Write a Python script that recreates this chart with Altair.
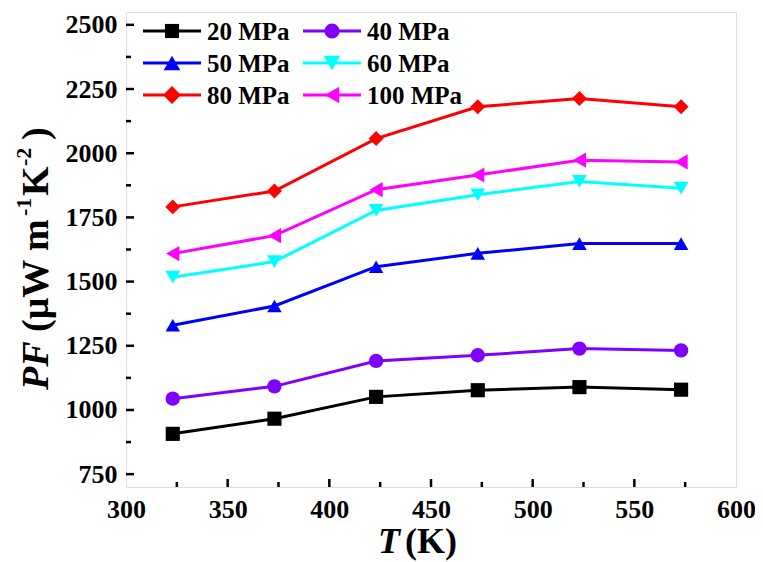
import altair as alt
import pandas as pd

# ---------------- data ----------------
series = ["20 MPa", "40 MPa", "50 MPa", "60 MPa", "80 MPa", "100 MPa"]
colors = ["#000000", "#8000FF", "#0000FF", "#00FFFF", "#FF0000", "#FF00FF"]
shapes = ["square", "circle", "triangle-up", "triangle-down", "diamond", "triangle-left"]
sizes = [200, 230, 280, 280, 320, 280]

T = [323, 373, 423, 473, 523, 573]
pf_20 = [907, 966, 1051, 1077, 1089, 1079]
pf_40 = [1044, 1092, 1191, 1213, 1239, 1232]
pf_50 = [1330, 1405, 1558, 1610, 1648, 1648]
pf_60 = [1517, 1578, 1777, 1838, 1890, 1864]
pf_80 = [1791, 1853, 2057, 2181, 2213, 2181]
pf_100 = [1609, 1679, 1858, 1915, 1973, 1966]
all_pf = [pf_20, pf_40, pf_50, pf_60, pf_80, pf_100]

x_ticks = [300, 350, 400, 450, 500, 550, 600]
x_minor = [325, 375, 425, 475, 525, 575]
y_ticks = [750, 1000, 1250, 1500, 1750, 2000, 2250, 2500]
y_minor = [875, 1125, 1375, 1625, 1875, 2125, 2375]

rows = []
for s, vals in zip(series, all_pf):
    for t, v in zip(T, vals):
        rows.append({"T": t, "PF": v, "series": s})
df = pd.DataFrame(rows)

# ---------------- layout ----------------
W, H = 610, 475
FONT = "Times New Roman, Liberation Serif, DejaVu Serif, serif"

xs = alt.Scale(domain=[300, 600], nice=False, zero=False)
ys = alt.Scale(domain=[700, 2550], nice=False, zero=False)
cs = alt.Scale(domain=series, range=colors)
ss = alt.Scale(domain=series, range=shapes)
zs = alt.Scale(domain=series, range=sizes)

axis_common = dict(
    labelFont=FONT, labelFontSize=26, labelFontWeight="bold", labelColor="black",
    ticks=False, domain=False, grid=False, title=None, labelFlush=False,
    labelOverlap=False, labelBound=False, format="d",
)

x_enc = alt.X("T:Q", scale=xs, axis=alt.Axis(values=x_ticks, labelPadding=9, **axis_common))
y_enc = alt.Y("PF:Q", scale=ys, axis=alt.Axis(values=y_ticks, labelPadding=9, **axis_common))

lines = alt.Chart(df).mark_line(strokeWidth=3).encode(
    x=x_enc, y=y_enc,
    color=alt.Color("series:N", scale=cs, legend=None),
    detail="series:N",
)
points = alt.Chart(df).mark_point(filled=True, opacity=1).encode(
    x=alt.X("T:Q", scale=xs),
    y=alt.Y("PF:Q", scale=ys),
    color=alt.Color("series:N", scale=cs, legend=None),
    shape=alt.Shape("series:N", scale=ss, legend=None),
    size=alt.Size("series:N", scale=zs, legend=None),
)

# inward ticks
def xtick_layer(vals, length):
    d = pd.DataFrame({"T": vals})
    return alt.Chart(d).mark_rule(color="black", strokeWidth=2.5).encode(
        x=alt.X("T:Q", scale=xs), y=alt.value(H), y2=alt.value(H - length))

def ytick_layer(vals, length):
    d = pd.DataFrame({"PF": vals})
    return alt.Chart(d).mark_rule(color="black", strokeWidth=2.5).encode(
        y=alt.Y("PF:Q", scale=ys), x=alt.value(0), x2=alt.value(length))

ticks = [
    xtick_layer(x_ticks[1:-1], 8), xtick_layer(x_minor, 5),
    ytick_layer(y_ticks, 8), ytick_layer(y_minor, 5),
]

# manual legend (2 columns x 3 rows)
legend_layers = []
for i, (s, c, sh, sz) in enumerate(zip(series, colors, shapes, sizes)):
    col, row = i % 2, i // 2
    x0 = 17 + col * 160
    ly = 19 + row * 32
    d = pd.DataFrame({"s": [s]})
    legend_layers.append(alt.Chart(d).mark_rule(color=c, strokeWidth=3).encode(
        x=alt.value(x0), x2=alt.value(x0 + 58), y=alt.value(ly)))
    legend_layers.append(alt.Chart(d).mark_point(filled=True, opacity=1, color=c, shape=sh, size=sz).encode(
        x=alt.value(x0 + 29), y=alt.value(ly)))
    legend_layers.append(alt.Chart(d).mark_text(
        font=FONT, fontSize=25, fontWeight="bold", color="black", align="left", baseline="middle"
    ).encode(x=alt.value(x0 + 64), y=alt.value(ly + 1), text="s:N"))

# axis titles with mixed styles
def txt(t, x, y, size, italic=False, angle=0):
    d = pd.DataFrame({"t": [t]})
    props = dict(font=FONT, fontSize=size, fontWeight="bold", color="black",
                 align="left", baseline="alphabetic", angle=angle)
    if italic:
        props["fontStyle"] = "italic"
    return alt.Chart(d).mark_text(**props).encode(
        x=alt.value(x), y=alt.value(y), text="t:N")

titles = [
    txt("T", 252, 541, 36, italic=True),
    txt("(K)", 279, 541, 36),
    txt("PF", -78, 378, 38, italic=True, angle=270),
    txt("(μW m", -78, 320, 38, angle=270),
    txt("-1", -95, 204, 22, angle=270),
    txt("K", -78, 184, 38, angle=270),
    txt("-2", -95, 154, 22, angle=270),
    txt(")", -78, 128, 38, angle=270),
]

chart = alt.layer(lines, points, *ticks, *legend_layers, *titles).properties(
    width=W, height=H,
    autosize=alt.AutoSizeParams(type="none"),
    padding={"left": 118, "top": 4, "right": 19, "bottom": 75},
).configure_view(stroke="black", strokeWidth=3).configure(background="white")

chart.save("out.html", embed_options={"renderer": "svg", "actions": False})
